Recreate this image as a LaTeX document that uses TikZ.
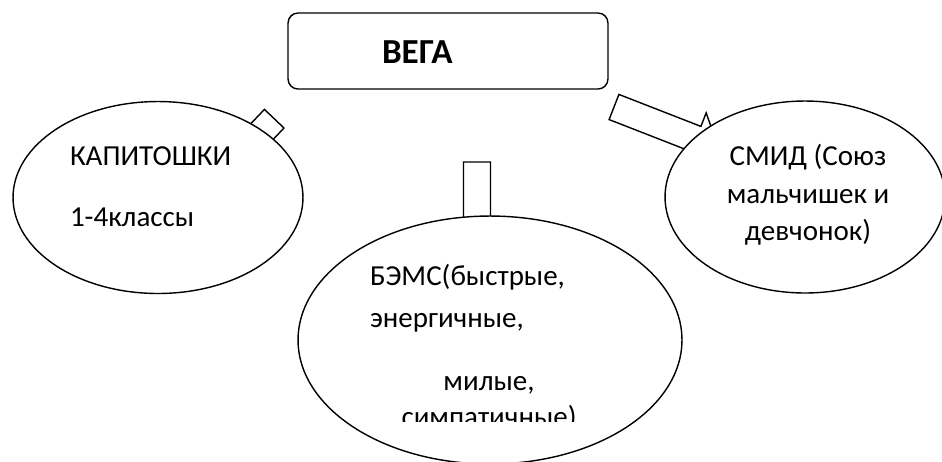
\documentclass[tikz,border=0pt]{standalone}
\usepackage{fontspec}
\setmainfont{Carlito}
\usetikzlibrary{shapes.geometric, positioning, calc}

% block arrow: tail point, angle, length
\newcommand{\blockarrow}[3]{%
  \draw[arrowbox, shift={#1}, rotate=#2]
    (0,-13.5) -- (#3-24,-13.5) -- (#3-24,-28) -- (#3,0)
    -- (#3-24,28) -- (#3-24,13.5) -- (0,13.5) -- cycle;
}

\begin{document}
\begin{tikzpicture}[x=0.02cm, y=0.02cm, line width=0.8pt,
    every node/.style={inner sep=0pt, outer sep=0pt},
    vegabox/.style={draw, rounded corners=0.2cm, minimum width=6.4cm, minimum height=1.52cm},
    club/.style={ellipse, draw, fill=white},
    clubtext/.style={font=\fontsize{16.5}{20}\selectfont},
    arrowbox/.style={draw, fill=white, line join=miter}]

    \useasboundingbox (0,0) rectangle (942,-461);

    % Nodes
    \node[vegabox] (vega) at (448,-51) {};
    \node[anchor=base west, font=\fontsize{20}{24}\selectfont\bfseries] (vega-name) at (382,-63) {ВЕГА};

    \coordinate (vega-l) at (274.2,-118.7);
    \coordinate (vega-m) at (477,-162);
    \coordinate (vega-r) at (614,-107);

    % Edges
    \blockarrow{(vega-l)}{226.4}{112}
    \blockarrow{(vega-m)}{270}{112}
    \blockarrow{(vega-r)}{-21.3}{112}

    % Ellipses
    \node[club, minimum width=5.8cm, minimum height=3.84cm] (kapi) at (158,-197.5) {};
    \node[club, minimum width=7.68cm, minimum height=4.96cm] (bems) at (490,-340) {};
    \node[club, minimum width=5.6cm, minimum height=3.84cm] (smid) at (805,-197) {};

    % Texts
    \node[clubtext, anchor=base west] (kapi-name) at (70,-165) {КАПИТОШКИ};
    \node[clubtext, anchor=base west] (kapi-grade) at (70,-226) {1-4классы};

    \node[clubtext, anchor=base] (smid-1) at (808,-165) {СМИД (Союз};
    \node[clubtext, anchor=base] (smid-2) at (808,-203) {мальчишек и};
    \node[clubtext, anchor=base] (smid-3) at (808,-240) {девчонок)};

    \node[clubtext, anchor=base west] (bems-1) at (370,-285) {БЭМС(быстрые,};
    \node[clubtext, anchor=base west] (bems-2) at (370,-327) {энергичные,};
    \node[clubtext, anchor=base] (bems-3) at (489,-390) {милые,};
    \begin{scope}
        \clip (300,-421.7) rectangle (700,-300);
        \node[clubtext, anchor=base] (bems-4) at (489,-426.5) {симпатичные)};
    \end{scope}

\end{tikzpicture}
\end{document}
